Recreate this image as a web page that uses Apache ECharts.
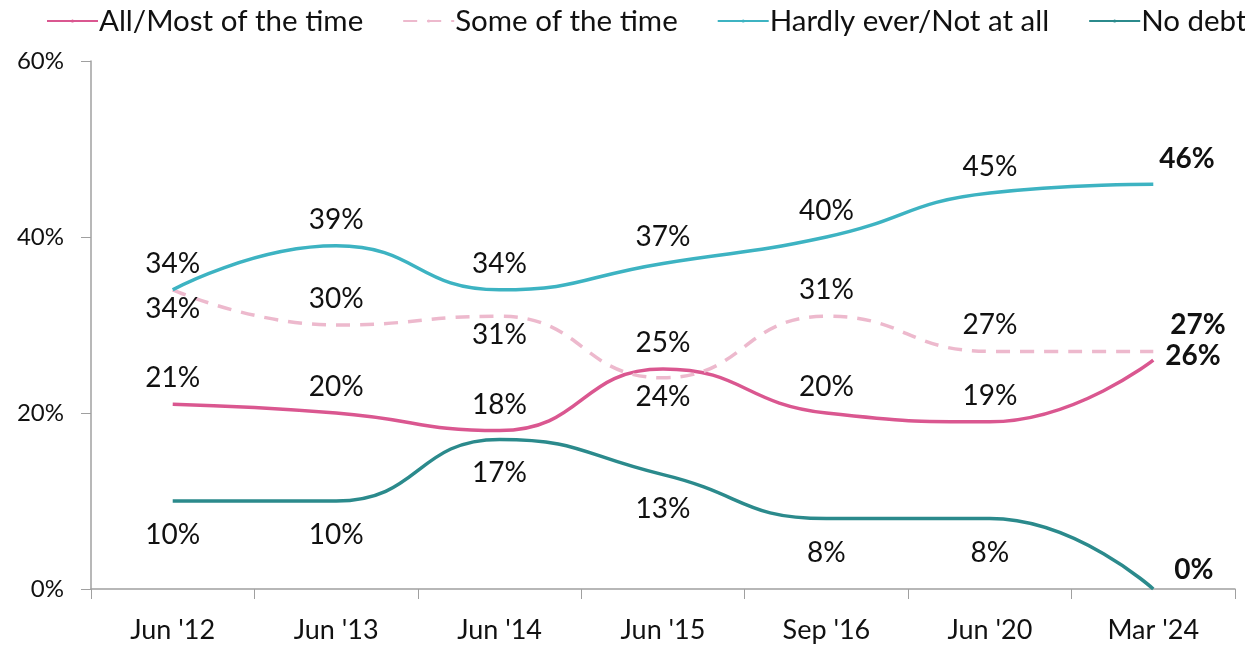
<!DOCTYPE html>
<html>
<head>
<meta charset="utf-8">
<script src="https://cdn.jsdelivr.net/npm/echarts@6/dist/echarts.min.js"></script>
<style>
  html, body { margin: 0; padding: 0; background: #fff; }
  #main { width: 1245px; height: 646px; }
</style>
</head>
<body>
<div id="main"></div>
<script>
var categories = ["Jun '12", "Jun '13", "Jun '14", "Jun '15", "Sep '16", "Jun '20", "Mar '24"];
var allMost = [21, 20, 18, 25, 20, 19, 26];
var someTime = [34, 30, 31, 24, 31, 27, 27];
var hardlyEver = [34, 39, 34, 37, 40, 45, 46];
var noDebt = [10, 10, 17, 13, 8, 8, 0];

// label placement per point (last point is bold, to the right)
var allMostPos = ['top', 'top', 'top', 'top', 'top', 'top', 'right'];
var somePos = ['bottom', 'top', 'bottom', 'bottom', 'top', 'top', 'right'];
var hardlyPos = ['top', 'top', 'top', 'top', 'top', 'top', 'right'];
var noDebtPos = ['bottom', 'bottom', 'bottom', 'bottom', 'bottom', 'bottom', 'right'];
var lastOffset = { allMost: [6, -4], some: [11, -26], hardly: [0, -25], noDebt: [15, -19] };
var bottomGap = { allMost: 14, some: 5, hardly: 14, noDebt: 20 };

var FONT = 'Lato';

function buildData(values, pos, off, bGap) {
  return values.map(function (v, i) {
    var last = i === values.length - 1;
    return {
      value: v,
      label: {
        position: pos[i],
        distance: last ? 6 : (pos[i] === 'bottom' ? bGap : 12),
        fontWeight: last ? 'bold' : 'normal',
        offset: last ? off : [0, 0]
      }
    };
  });
}

function makeSeries(name, values, pos, off, bGap, color, type) {
  return {
    name: name,
    type: 'line',
    smooth: 0.5,
    symbol: 'circle',
    symbolSize: 0,
    showSymbol: true,
    data: buildData(values, pos, off, bGap),
    lineStyle: { color: color, width: 3.5, type: type || 'solid' },
    itemStyle: { color: color },
    label: {
      show: true,
      formatter: '{c}%',
      color: '#111',
      fontSize: 28,
      fontFamily: FONT
    },
    z: 2
  };
}

var myChart = echarts.init(document.getElementById('main'));
var option = {
  backgroundColor: '#fff',
  animation: false,
  legend: {
    top: 6,
    left: 46,
    width: 1400,
    padding: 0,
    itemWidth: 51,
    itemHeight: 4,
    itemGap: 39,
    textStyle: { fontFamily: FONT, fontSize: 29.5, color: '#111', padding: [0, 0, 0, -4] },
    data: ['All/Most of the time', 'Some of the time', 'Hardly ever/Not at all', 'No debt']
  },
  grid: { left: 91, right: 10, top: 61, bottom: 57 },
  xAxis: {
    type: 'category',
    data: categories,
    boundaryGap: true,
    axisLine: { lineStyle: { color: '#a0a0a0', width: 1.5 } },
    axisTick: { show: true, length: 10, lineStyle: { color: '#a0a0a0' } },
    axisLabel: { fontFamily: FONT, fontSize: 27, color: '#111', margin: 28 }
  },
  yAxis: {
    type: 'value',
    min: 0,
    max: 60,
    interval: 20,
    axisLine: { show: true, lineStyle: { color: '#a0a0a0', width: 1.5 } },
    axisTick: { show: true, length: 10, lineStyle: { color: '#a0a0a0' } },
    splitLine: { show: false },
    axisLabel: { formatter: '{value}%', fontFamily: FONT, fontSize: 24, color: '#111', margin: 27 }
  },
  series: [
    makeSeries('All/Most of the time', allMost, allMostPos, lastOffset.allMost, bottomGap.allMost, '#DA5790'),
    makeSeries('Some of the time', someTime, somePos, lastOffset.some, bottomGap.some, '#EDB9CD', [14, 10]),
    makeSeries('Hardly ever/Not at all', hardlyEver, hardlyPos, lastOffset.hardly, bottomGap.hardly, '#3DB3C2'),
    makeSeries('No debt', noDebt, noDebtPos, lastOffset.noDebt, bottomGap.noDebt, '#2B8A8C')
  ]
};
myChart.setOption(option);
</script>
</body>
</html>
